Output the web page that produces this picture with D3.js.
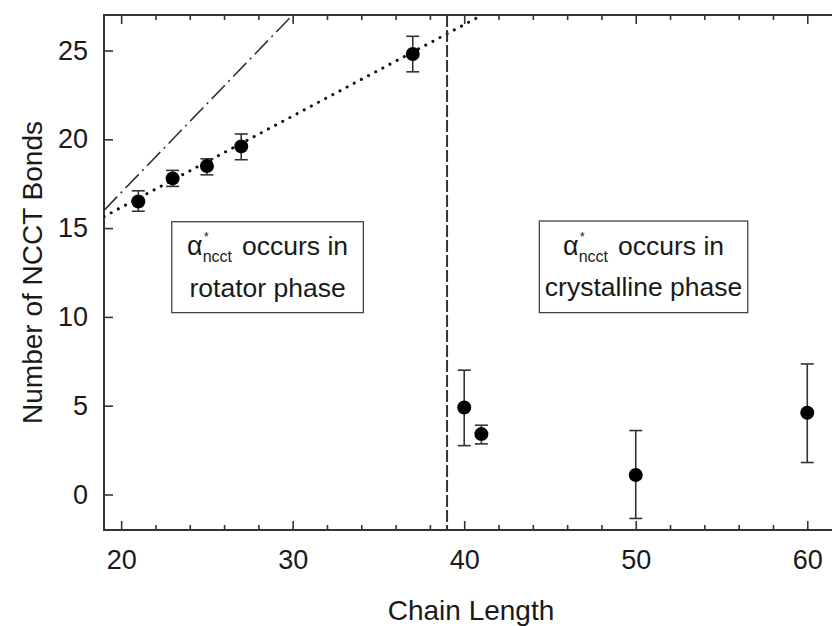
<!DOCTYPE html>
<html>
<head>
<meta charset="utf-8">
<script src="https://cdn.jsdelivr.net/npm/d3@7"></script>
<style>
  html, body { margin: 0; padding: 0; background: #fff; }
  svg { display: block; }
  text { font-family: "Liberation Sans", Arial, sans-serif; fill: #1a1a1a; }
</style>
</head>
<body>
<svg id="chart" width="832" height="626"></svg>
<script>
// ---- data ----
const chainLength = [21, 23, 25, 27, 37, 40, 41, 50, 60];
const ncctBonds   = [16.5, 17.8, 18.5, 19.6, 24.8, 4.9, 3.4, 1.1, 4.6];
const errUpper    = [17.1, 18.25, 18.9, 20.3, 25.8, 7.0, 3.9, 3.6, 7.35];
const errLower    = [15.95, 17.35, 18.0, 18.85, 23.8, 2.75, 2.85, -1.35, 1.8];
const xTickValues = [20, 30, 40, 50, 60];
const xMinorTicks = [22, 24, 26, 28, 32, 34, 36, 38, 42, 44, 46, 48, 52, 54, 56, 58];
const yTickValues = [0, 5, 10, 15, 20, 25];
const dottedFitX  = [19, 41.05];
const dottedFitY  = [15.65, 27];
const dashDotX    = [19, 30];
const dashDotY    = [16, 27];
const phaseBoundary = 39;
const xLabel = "Chain Length";
const yLabel = "Number of NCCT Bonds";
const boxLine1 = "occurs in";
const boxLine2 = ["rotator phase", "crystalline phase"];

// ---- layout ----
const svg = d3.select("#chart");
const L = 104, R = 833, T = 15, B = 530;
const x = d3.scaleLinear().domain([19, 61.5]).range([L, R]);
const y = d3.scaleLinear().domain([-2, 27]).range([B, T]);
const ink = "#333";

svg.append("defs").append("clipPath").attr("id", "plotclip")
  .append("rect").attr("x", L).attr("y", T).attr("width", R - L).attr("height", B - T);

// axes (ticks pointing inward)
const tickFs = "27px";
const gx = svg.append("g").attr("transform", `translate(0,${B})`)
  .call(d3.axisBottom(x).tickValues(xTickValues).tickSizeInner(-9).tickSizeOuter(0).tickPadding(20).tickFormat(d3.format("d")));
const gxMinor = svg.append("g").attr("transform", `translate(0,${B})`)
  .call(d3.axisBottom(x).tickValues(xMinorTicks).tickSize(-5).tickFormat(""));
const gxTop = svg.append("g").attr("transform", `translate(0,${T})`)
  .call(d3.axisTop(x).tickValues(xTickValues).tickSizeInner(-9).tickSizeOuter(0).tickFormat(""));
const gxTopMinor = svg.append("g").attr("transform", `translate(0,${T})`)
  .call(d3.axisTop(x).tickValues(xMinorTicks).tickSize(-5).tickFormat(""));
const gy = svg.append("g").attr("transform", `translate(${L},0)`)
  .call(d3.axisLeft(y).tickValues(yTickValues).tickSizeInner(-9).tickSizeOuter(0).tickPadding(16).tickFormat(d3.format("d")));

[gx, gxMinor, gxTop, gxTopMinor, gy].forEach(g => {
  g.select(".domain").remove();
  g.selectAll(".tick line").attr("stroke", ink).attr("stroke-width", 1.6);
  g.selectAll(".tick text").attr("font-size", tickFs).attr("fill", "#1a1a1a")
    .attr("font-family", '"Liberation Sans", Arial, sans-serif');
});

// frame lines
svg.append("line").attr("x1", L).attr("x2", L).attr("y1", T - 1).attr("y2", B + 1).attr("stroke", ink).attr("stroke-width", 2);
svg.append("line").attr("x1", L).attr("x2", R).attr("y1", B).attr("y2", B).attr("stroke", ink).attr("stroke-width", 2);
svg.append("line").attr("x1", L).attr("x2", R).attr("y1", T).attr("y2", T).attr("stroke", ink).attr("stroke-width", 2);

const plot = svg.append("g").attr("clip-path", "url(#plotclip)");

// dash-dot line
plot.append("line")
  .attr("x1", x(dashDotX[0])).attr("y1", y(dashDotY[0]))
  .attr("x2", x(dashDotX[1])).attr("y2", y(dashDotY[1]))
  .attr("stroke", ink).attr("stroke-width", 1.6)
  .attr("stroke-dasharray", "19,5,2,5");

// dotted fit
plot.append("line")
  .attr("x1", x(dottedFitX[0])).attr("y1", y(dottedFitY[0]))
  .attr("x2", x(dottedFitX[1])).attr("y2", y(dottedFitY[1]))
  .attr("stroke", "#111").attr("stroke-width", 3)
  .attr("stroke-linecap", "round")
  .attr("stroke-dasharray", "0.1,8");

// vertical phase boundary
plot.append("line")
  .attr("x1", x(phaseBoundary)).attr("x2", x(phaseBoundary))
  .attr("y1", T).attr("y2", B)
  .attr("stroke", ink).attr("stroke-width", 2)
  .attr("stroke-dasharray", "12,3");

// error bars
const pts = chainLength.map((c, i) => ({ c, v: ncctBonds[i], hi: errUpper[i], lo: errLower[i] }));
const eb = plot.append("g").attr("stroke", ink).attr("stroke-width", 1.6);
eb.selectAll("line.v").data(pts).join("line").attr("class", "v")
  .attr("x1", d => x(d.c)).attr("x2", d => x(d.c))
  .attr("y1", d => y(d.hi)).attr("y2", d => y(d.lo));
eb.selectAll("line.h").data(pts).join("line").attr("class", "h")
  .attr("x1", d => x(d.c) - 6.5).attr("x2", d => x(d.c) + 6.5)
  .attr("y1", d => y(d.hi)).attr("y2", d => y(d.hi));
eb.selectAll("line.l").data(pts).join("line").attr("class", "l")
  .attr("x1", d => x(d.c) - 6.5).attr("x2", d => x(d.c) + 6.5)
  .attr("y1", d => y(d.lo)).attr("y2", d => y(d.lo));

// markers
plot.append("g").selectAll("circle").data(pts).join("circle")
  .attr("cx", d => x(d.c)).attr("cy", d => y(d.v)).attr("r", 7)
  .attr("fill", "#000");

// annotation boxes (data coordinates)
const boxes = [
  { x0: 22.95, x1: 34.12, yTop: 15.36, yBot: 10.24, line2: boxLine2[0] },
  { x0: 44.38, x1: 56.53, yTop: 15.4,  yBot: 10.24, line2: boxLine2[1] }
];
const boxFs = "26.5px";
boxes.forEach(b => {
  const bx0 = x(b.x0), bx1 = x(b.x1), by0 = y(b.yTop), by1 = y(b.yBot);
  svg.append("rect").attr("x", bx0).attr("y", by0).attr("width", bx1 - bx0).attr("height", by1 - by0)
    .attr("fill", "#fff").attr("stroke", "#444").attr("stroke-width", 1.3);
  const cx = (bx0 + bx1) / 2;
  const g = svg.append("g");
  const base1 = by0 + 33.5, base2 = by0 + 75;
  const alpha = g.append("text").attr("font-family", '"Liberation Serif", "DejaVu Serif", serif')
    .attr("font-size", "27px").attr("y", base1).text("\u03B1");
  const sub = g.append("text").attr("font-size", "16px").attr("y", base1 + 7).text("ncct");
  const star = g.append("text").attr("font-size", "13px").attr("y", base1 - 14).text("*");
  const rest = g.append("text").attr("font-size", boxFs).attr("y", base1).text(boxLine1);
  const wA = alpha.node().getComputedTextLength();
  const wS = sub.node().getComputedTextLength();
  const wR = rest.node().getComputedTextLength();
  const gap = 10;
  const total = wA + wS + gap + wR;
  const sx = cx - total / 2;
  alpha.attr("x", sx);
  sub.attr("x", sx + wA);
  star.attr("x", sx + wA + 1);
  rest.attr("x", sx + wA + wS + gap);
  g.append("text").attr("font-size", boxFs).attr("text-anchor", "middle")
    .attr("x", cx).attr("y", base2).text(b.line2);
});

// axis labels
svg.append("text").attr("font-size", "28px").attr("text-anchor", "middle")
  .attr("x", 471).attr("y", 620).text(xLabel);
svg.append("text").attr("font-size", "28px").attr("text-anchor", "middle")
  .attr("transform", `translate(42,${(T + B) / 2}) rotate(-90)`).text(yLabel);
</script>
</body>
</html>
